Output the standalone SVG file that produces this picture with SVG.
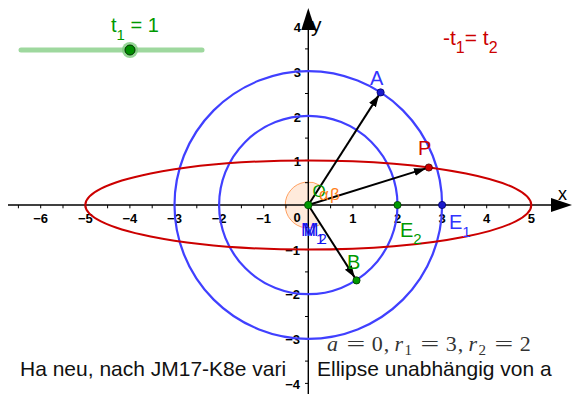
<svg xmlns="http://www.w3.org/2000/svg" width="572" height="394" viewBox="0 0 572 394">
<style>
.tick{stroke:#000;stroke-width:1;fill:none}
.axis{stroke:#000;stroke-width:1.4;fill:none}
.num{font-family:"Liberation Sans",Arial,sans-serif;font-size:13px;font-weight:bold;fill:#000}
.numx{text-anchor:middle}
.numy{text-anchor:end}
.lbl{font-family:"Liberation Sans",Arial,sans-serif;font-size:20px}
.circ{fill:none;stroke:#4040ff;stroke-width:2.2}
.vec{stroke:#000;stroke-width:2;fill:none}
.big{font-family:"Liberation Sans",Arial,sans-serif;font-size:21px;fill:#111}
.m{font-family:"Liberation Serif","Times New Roman",serif;font-size:22px;fill:#333}
.mi{font-style:italic}
.ms{font-size:15px}
</style>
<defs>
<marker id="ah" markerUnits="userSpaceOnUse" markerWidth="14" markerHeight="10" refX="12" refY="5" orient="auto">
<path d="M0,1 L12,5 L0,9 Z" fill="#000"/>
</marker>
</defs>
<rect width="572" height="394" fill="#fff"/>

<g id="angle-sector">
<path d="M308.3,205 L320.7,185.65 A23,23 0 1 0 320.7,224.35 Z" fill="#ffeadb" stroke="#ffa060" stroke-width="1"/>
</g>

<g id="axes">
<path class="axis" d="M8,205 H556"/>
<path d="M551,198 L572,205 L551,212 Z" fill="#000"/>
<path class="axis" d="M308.3,394 V26"/>
<path d="M301.3,30 L308.3,8 L315.3,30 Z" fill="#000"/>
<path class="tick" d="M18.4,205v3.3M40.7,205v3.3M63,205v3.3M85.3,205v3.3M107.6,205v3.3M129.9,205v3.3M152.2,205v3.3M174.5,205v3.3M196.8,205v3.3M219.1,205v3.3M241.4,205v3.3M263.7,205v3.3M286,205v3.3M330.6,205v3.3M352.9,205v3.3M375.2,205v3.3M397.5,205v3.3M419.8,205v3.3M442.1,205v3.3M464.4,205v3.3M486.7,205v3.3M509,205v3.3M531.3,205v3.3M553.6,205v3.3"/>
<path class="tick" d="M305,48.9h3.3M305,71.2h3.3M305,93.5h3.3M305,115.8h3.3M305,138.1h3.3M305,160.4h3.3M305,182.7h3.3M305,227.3h3.3M305,249.6h3.3M305,271.9h3.3M305,294.2h3.3M305,316.5h3.3M305,338.8h3.3M305,361.1h3.3M305,383.4h3.3"/>
<text x="558" y="200" font-family="Liberation Sans,Arial,sans-serif" font-size="18" fill="#000">x</text>
<text x="311" y="32" font-family="Liberation Sans,Arial,sans-serif" font-size="21" fill="#000">y</text>
<g class="num numx">
<text x="40.7" y="223">−6</text>
<text x="85.3" y="223">−5</text>
<text x="129.9" y="223">−4</text>
<text x="174.5" y="223">−3</text>
<text x="219.1" y="223">−2</text>
<text x="263.7" y="223">−1</text>
<text x="297" y="222">0</text>
<text x="352.9" y="223">1</text>
<text x="397.5" y="223">2</text>
<text x="442.1" y="223">3</text>
<text x="486.7" y="223">4</text>
<text x="531.3" y="223">5</text>
</g>
<g class="num numy">
<text x="301" y="32">4</text>
<text x="301" y="77">3</text>
<text x="301" y="121.5">2</text>
<text x="301" y="166">1</text>
<text x="300" y="254.5">−1</text>
<text x="300" y="299">−2</text>
<text x="300" y="344">−3</text>
<text x="300" y="388.5">−4</text>
</g>
</g>

<g id="circle-r1"><circle class="circ" cx="308.3" cy="205" r="133.8"/></g>
<g id="circle-r2"><circle class="circ" cx="308.3" cy="205" r="89.2"/></g>
<g id="ellipse"><ellipse cx="308.3" cy="205" rx="223" ry="44.6" fill="none" stroke="#cc0000" stroke-width="2"/></g>

<g id="connectors">
<line class="vec" x1="308.3" y1="205" x2="379" y2="94.9" marker-end="url(#ah)"/>
<line class="vec" x1="308.3" y1="205" x2="426" y2="168.4" marker-end="url(#ah)"/>
<line class="vec" x1="308.3" y1="205" x2="354.8" y2="277.6" marker-end="url(#ah)"/>
</g>

<g id="slider">
<line x1="21" y1="50" x2="202" y2="50" stroke="#9ed89e" stroke-width="5" stroke-linecap="round"/>
<circle cx="130" cy="50" r="8" fill="#7ccc7c" opacity="0.8"/>
<circle cx="130" cy="50" r="5" fill="#008f00" stroke="#003300" stroke-width="1"/>
<text x="111" y="32" font-family="Liberation Sans,Arial,sans-serif" font-size="20" fill="#009900">t<tspan font-size="15" dy="8">1</tspan><tspan dy="-8"> = 1</tspan></text>
</g>

<g id="title-relation">
<text x="443" y="45" font-family="Liberation Sans,Arial,sans-serif" font-size="21" fill="#cc0000">-t<tspan font-size="16" dy="8">1</tspan><tspan dy="-8">= t</tspan><tspan font-size="16" dy="8">2</tspan></text>
</g>

<g id="angle-labels">
<text x="312.5" y="197" font-family="Liberation Sans,Arial,sans-serif" font-size="17" fill="#009900">O</text>
<text x="319" y="200" font-family="Liberation Sans,Arial,sans-serif" font-size="17" fill="#ff7f1a">α</text>
<text x="330" y="200" font-family="Liberation Sans,Arial,sans-serif" font-size="17" fill="#ff7f1a">β</text>
</g>

<g id="point-O"><circle cx="308.3" cy="205" r="3.8" fill="#009900" stroke="#004400" stroke-width="0.8"/></g>

<g id="point-A">
<circle cx="380.6" cy="92.4" r="3.6" fill="#1a1acc" stroke="#000066" stroke-width="0.8"/>
<text class="lbl" x="370" y="85" fill="#3333ff">A</text>
</g>
<g id="point-P">
<circle cx="428.8" cy="167.5" r="3.6" fill="#cc0000" stroke="#440000" stroke-width="0.8"/>
<text class="lbl" x="418" y="155" fill="#cc0000">P</text>
</g>
<g id="point-B">
<circle cx="356.5" cy="280.4" r="3.6" fill="#009900" stroke="#003300" stroke-width="0.8"/>
<text class="lbl" x="347" y="269" fill="#009900">B</text>
</g>
<g id="point-E1">
<circle cx="442.1" cy="205" r="3.6" fill="#1a1acc" stroke="#000066" stroke-width="0.8"/>
<text class="lbl" x="449" y="228.5" fill="#3333ff">E<tspan font-size="15" dy="8">1</tspan></text>
</g>
<g id="point-E2">
<circle cx="397.5" cy="205" r="3.6" fill="#009900" stroke="#003300" stroke-width="0.8"/>
<text class="lbl" x="400" y="237" fill="#009900">E<tspan font-size="15" dy="7">2</tspan></text>
</g>
<g id="label-M">
<text x="301" y="236" font-family="Liberation Sans,Arial,sans-serif" font-size="18" fill="#1515ee">M<tspan font-size="15" dy="8">1</tspan></text>
<text x="303.5" y="236" font-family="Liberation Sans,Arial,sans-serif" font-size="18" fill="#1515ee">M<tspan font-size="15" dy="8">2</tspan></text>
</g>

<g id="formula" class="m">
<text class="mi" x="327" y="351">a</text>
<text x="346.4" y="351" textLength="18.7" lengthAdjust="spacingAndGlyphs">=</text>
<text x="371.8" y="351">0</text>
<text x="383.8" y="351">,</text>
<text class="mi" x="394.5" y="351">r</text>
<text class="ms" x="404.5" y="355">1</text>
<text x="420.4" y="351" textLength="18.7" lengthAdjust="spacingAndGlyphs">=</text>
<text x="445.8" y="351">3</text>
<text x="457.8" y="351">,</text>
<text class="mi" x="468.5" y="351">r</text>
<text class="ms" x="478.5" y="355">2</text>
<text x="494.4" y="351" textLength="18.7" lengthAdjust="spacingAndGlyphs">=</text>
<text x="519.8" y="351">2</text>
</g>
<g id="notes">
<text class="big" x="20" y="375.5">Ha neu, nach JM17-K8e vari</text>
<text class="big" x="317" y="375.5">Ellipse unabhängig von a</text>
</g>
</svg>
